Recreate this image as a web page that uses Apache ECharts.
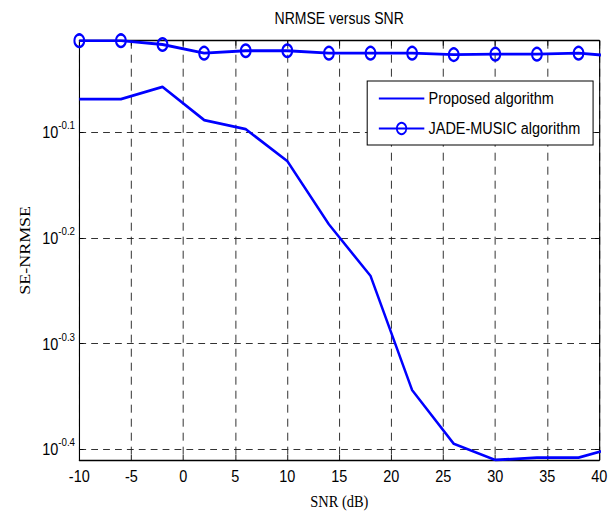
<!DOCTYPE html>
<html>
<head>
<meta charset="utf-8">
<script src="https://cdn.jsdelivr.net/npm/echarts@6/dist/echarts.min.js"></script>
<style>
html,body{margin:0;padding:0;background:#fff;overflow:hidden;}
#wrap{width:614px;height:515px;overflow:hidden;position:relative;}
#chart{width:722px;height:515px;transform:scaleX(0.85);transform-origin:0 0;position:absolute;left:0;top:0;}
</style>
</head>
<body>
<div id="wrap"><div id="chart"></div></div>
<script>
// Data
var snr = [-10, -6, -2, 2, 6, 10, 14, 18, 22, 26, 30, 34, 38, 42];
var proposed = [0.854, 0.854, 0.877, 0.816, 0.800, 0.746, 0.650, 0.581, 0.453, 0.403, 0.389, 0.391, 0.391, 0.401];
var jade = [0.970, 0.970, 0.962, 0.944, 0.949, 0.949, 0.944, 0.944, 0.944, 0.941, 0.942, 0.942, 0.944, 0.937];
var xTicks = [-10, -5, 0, 5, 10, 15, 20, 25, 30, 35, 40];
var yTickExponents = [-0.4, -0.3, -0.2, -0.1];
var seriesNames = ['Proposed algorithm', 'JADE-MUSIC algorithm'];

function toPairs(xs, ys) {
  return xs.map(function (x, i) { return [x, Math.log10(ys[i])]; });
}
var allVals = proposed.concat(jade);
var yMin = Math.log10(Math.min.apply(null, allVals));
var yMax = Math.log10(Math.max.apply(null, allVals));

var sans = '"Liberation Sans", Arial, sans-serif';
var serif = '"Liberation Serif", "Times New Roman", serif';
var gridLine = { show: true, lineStyle: { color: '#222', width: 1, type: [8, 6] } };

var chart = echarts.init(document.getElementById('chart'), null, { renderer: 'svg' });
chart.setOption({
  backgroundColor: '#fff',
  animation: false,
  title: {
    text: 'NRMSE versus SNR',
    left: 399, top: 10, padding: 0, textAlign: 'center',
    textStyle: { fontFamily: sans, fontSize: 16.5, fontWeight: 'normal', color: '#000' }
  },
  grid: { left: 93.3, right: 16.9, top: 40.7, bottom: 52, containLabel: false },
  legend: {
    orient: 'vertical',
    left: 432, top: 81,
    padding: [9, 15, 8, 12.7],
    itemWidth: 53.5, itemHeight: 14, itemGap: 13,
    backgroundColor: '#fff', borderColor: '#000', borderWidth: 1.2, borderRadius: 0,
    textStyle: { fontFamily: sans, fontSize: 17, color: '#000' },
    data: [
      { name: seriesNames[0], itemStyle: { opacity: 0 } },
      { name: seriesNames[1] }
    ]
  },
  xAxis: [{
    type: 'value', min: xTicks[0], max: xTicks[xTicks.length - 1], interval: xTicks[1] - xTicks[0],
    name: 'SNR (dB)', nameLocation: 'middle', nameGap: 33,
    nameTextStyle: { fontFamily: serif, fontSize: 17, color: '#000' },
    axisLine: { show: true, onZero: false, lineStyle: { color: '#000', width: 1.3 } },
    axisTick: { show: true, inside: true, length: 5, lineStyle: { color: '#000' } },
    axisLabel: { fontFamily: sans, fontSize: 17, color: '#000', margin: 8 },
    splitLine: gridLine
  }, {
    type: 'value', position: 'top', min: xTicks[0], max: xTicks[xTicks.length - 1], interval: xTicks[1] - xTicks[0],
    axisLine: { show: true, onZero: false, lineStyle: { color: '#000', width: 1.3 } },
    axisTick: { show: true, inside: true, length: 5, lineStyle: { color: '#000' } },
    axisLabel: { show: false }, splitLine: { show: false }
  }],
  yAxis: [{
    type: 'value', min: yMin, max: yMax,
    name: 'SE-NRMSE', nameLocation: 'middle', nameGap: 51,
    nameTextStyle: { fontFamily: serif, fontSize: 18, color: '#000' },
    axisLine: { show: true, onZero: false, lineStyle: { color: '#000', width: 1.3 } },
    axisTick: { show: true, inside: true, length: 5, customValues: yTickExponents, lineStyle: { color: '#000' } },
    axisLabel: {
      customValues: yTickExponents, margin: 5,
      formatter: function (v) { return '{a|10}{b|' + v.toFixed(1) + '}'; },
      rich: {
        a: { fontFamily: sans, fontSize: 17, lineHeight: 27, color: '#000' },
        b: { fontFamily: sans, fontSize: 11.5, lineHeight: 12, verticalAlign: 'top', color: '#000' }
      }
    },
    splitLine: gridLine
  }, {
    type: 'value', position: 'right', min: yMin, max: yMax,
    axisLine: { show: true, onZero: false, lineStyle: { color: '#000', width: 1.3 } },
    axisTick: { show: true, inside: true, length: 5, customValues: yTickExponents, lineStyle: { color: '#000' } },
    axisLabel: { show: false }, splitLine: { show: false }
  }],
  series: [{
    name: seriesNames[0], type: 'line', data: toPairs(snr, proposed),
    symbol: 'none', clip: true,
    lineStyle: { color: '#0000ff', width: 2.8 }, itemStyle: { color: '#0000ff' }
  }, {
    name: seriesNames[1], type: 'line', data: toPairs(snr, jade),
    symbol: 'circle', symbolSize: [11.5, 12.5], clip: true,
    lineStyle: { color: '#0000ff', width: 2.8 },
    itemStyle: { color: 'rgba(0,0,0,0)', borderColor: '#0000ff', borderWidth: 2.4 }
  }]
});
</script>
</body>
</html>
